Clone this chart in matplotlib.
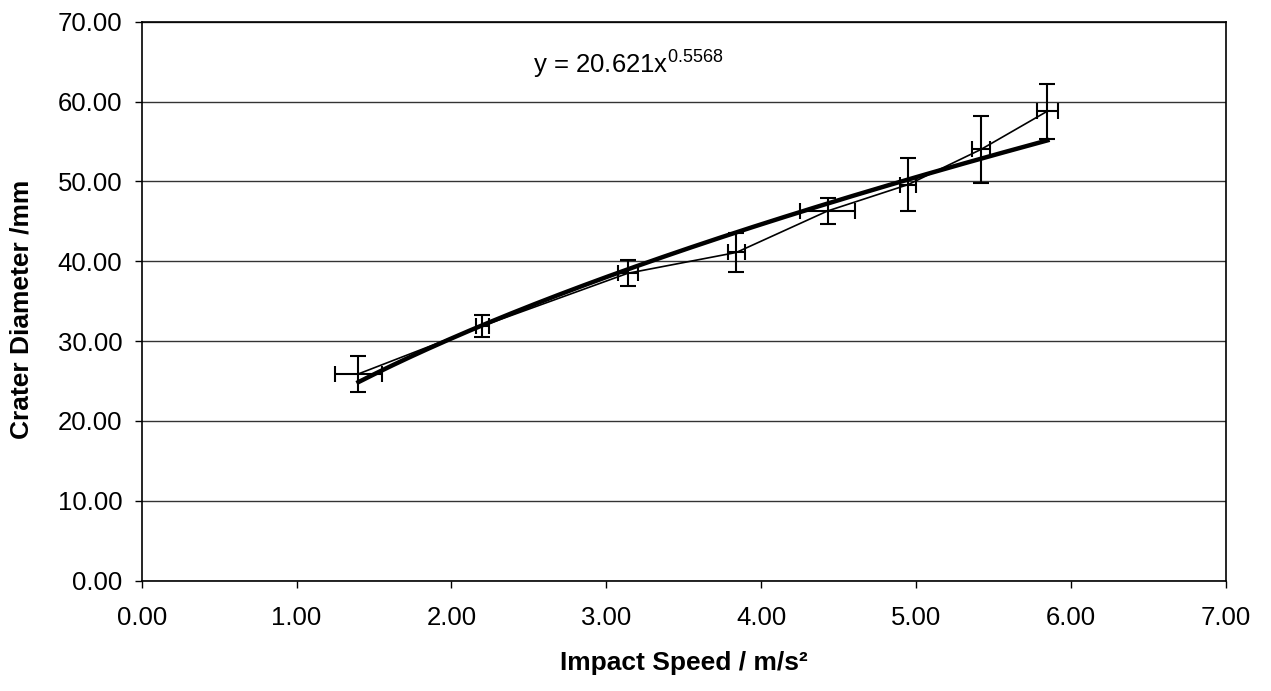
import numpy as np
import matplotlib
matplotlib.use("Agg")
import matplotlib.pyplot as plt

# ---- data ----
speed = [1.40, 2.20, 3.14, 3.84, 4.43, 4.95, 5.42, 5.85]
diameter = [25.9, 31.9, 38.5, 41.1, 46.3, 49.6, 54.0, 58.8]
diameter_err = [2.3, 1.4, 1.6, 2.4, 1.6, 3.35, 4.25, 3.45]
speed_err = [0.15, 0.04, 0.065, 0.055, 0.18, 0.05, 0.06, 0.07]
fit_a = 20.621
fit_b = 0.5568
x_ticks = [0, 1, 2, 3, 4, 5, 6, 7]
y_ticks = [0, 10, 20, 30, 40, 50, 60, 70]

plt.rcParams['font.family'] = ['Liberation Sans', 'DejaVu Sans']
plt.rcParams['mathtext.fontset'] = 'custom'
plt.rcParams['mathtext.rm'] = 'Liberation Sans'

W, H = 1271, 691
fig = plt.figure(figsize=(W / 100, H / 100), dpi=100)
L, R, T, B = 141.7, 1225.5, 21.7, 580.7
ax = fig.add_axes([L / W, 1 - B / H, (R - L) / W, (B - T) / H])

ax.set_xlim(0, 7)
ax.set_ylim(0, 70)
ax.set_xticks(x_ticks)
ax.set_yticks(y_ticks)
ax.set_xticklabels([f"{v:.2f}" for v in x_ticks])
ax.set_yticklabels([f"{v:.2f}" for v in y_ticks])
ax.tick_params(axis='both', labelsize=18.5, colors='black', direction='out',
               length=5, width=1.0)
ax.tick_params(axis='x', pad=13)
ax.tick_params(axis='y', pad=9)

ax.yaxis.grid(True, color='#333333', linewidth=1.0)
ax.set_axisbelow(True)
for s in ax.spines.values():
    s.set_color('black')
    s.set_linewidth(1.2)

# power trendline
xf = np.linspace(min(speed), max(speed), 200)
ax.plot(xf, fit_a * xf ** fit_b, color='black', linewidth=3.2, zorder=3)

# data series with error bars
ax.errorbar(speed, diameter, yerr=diameter_err, xerr=speed_err,
            color='black', linewidth=1.2, elinewidth=1.5,
            capsize=6, capthick=1.5, zorder=4)

ax.text(2.53, 63.6, r'y = 20.621x$^{\mathregular{0.5568}}$', fontsize=18.5,
        ha='left', va='baseline', color='black')

fig.text(22 / W, 1 - 309 / H, 'Crater Diameter /mm', rotation=90,
         ha='center', va='center', fontsize=19, fontweight='bold')
fig.text(684 / W, 1 - 663 / H, 'Impact Speed / m/s\u00b2',
         ha='center', va='center', fontsize=19, fontweight='bold')

fig.savefig('out.png', dpi=100)
